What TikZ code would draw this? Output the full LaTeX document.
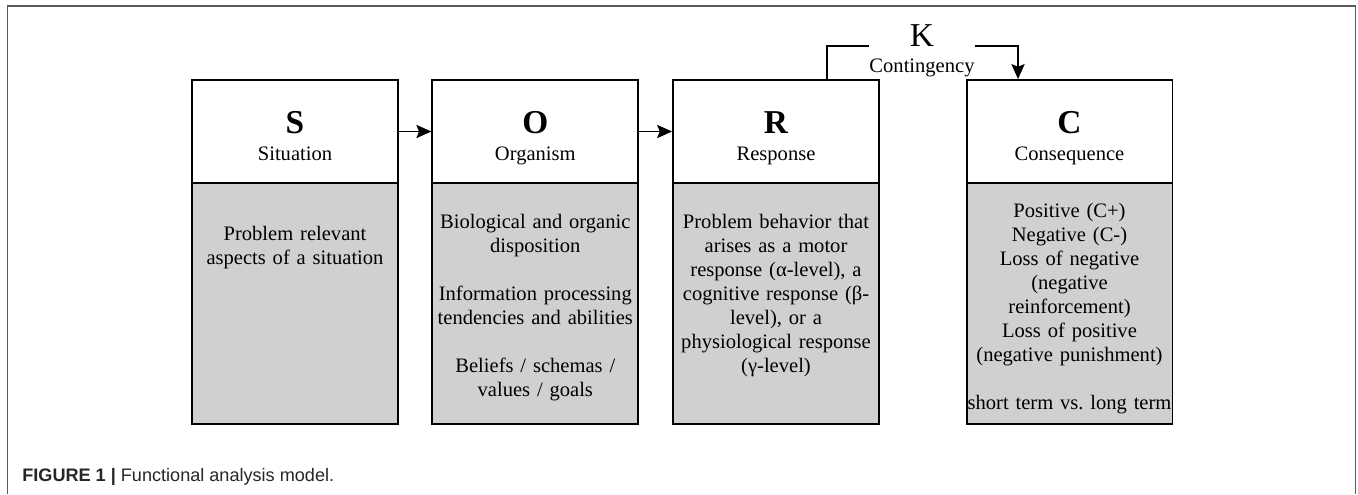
\documentclass[tikz,border=0pt]{standalone}
\usepackage{fontspec}
\setmainfont{Liberation Serif}
\newfontfamily\capfont{Liberation Sans}
\usetikzlibrary{arrows.meta}
\definecolor{bodygray}{HTML}{D0D0D0}
\definecolor{framegray}{HTML}{5A5A5A}
\definecolor{capgray}{HTML}{262626}
\frenchspacing

\begin{document}
\begin{tikzpicture}[x=0.02cm, y=-0.02cm, >={Stealth[length=8.5pt,width=7.5pt,inset=1.5pt]}]
        \tikzstyle{head}=[draw, line width=1.1pt, fill=white, minimum width=4.12cm, minimum height=2.06cm, inner sep=0pt]
        \tikzstyle{body}=[draw, line width=1.1pt, fill=bodygray, minimum width=4.12cm, minimum height=4.82cm, inner sep=0pt]
        \tikzstyle{letter}=[anchor=base, inner sep=0pt, font=\fontsize{19}{22}\selectfont\bfseries]
        \tikzstyle{term}=[anchor=base, inner sep=0pt, font=\fontsize{11.7}{13.7}\selectfont]
        \tikzstyle{info}=[anchor=base, inner sep=0pt, text width=4.12cm, align=center, font=\fontsize{11.7}{13.66}\selectfont]
        \tikzstyle{conn}=[line width=1pt]
        \useasboundingbox (0,0) rectangle (1358,494);
        % frame of the figure
        \draw[framegray, line width=0.9pt] (7.5,494) -- (7.5,6) -- (1355.5,6) -- (1355.5,494);
        % S
        \node [head] (s-head) at (295,131.5) {};
        \node [body] (s-body) at (295,303.5) {};
        \node [letter] (s-let) at (295,133) {S};
        \node [term] (s-term) at (295,160.5) {Situation};
        \node [info] (s-text) at (295,240.5) {Problem relevant\\aspects of a situation};
        % O
        \node [head] (o-head) at (535.3,131.5) {};
        \node [body] (o-body) at (535.3,303.5) {};
        \node [letter] (o-let) at (535.3,133) {O};
        \node [term] (o-term) at (535.3,160.5) {Organism};
        \node [info] (o-text) at (535.3,228) {Biological and organic\\disposition\\[13.66pt]Information processing\\tendencies and abilities\\[13.66pt]Beliefs / schemas /\\values / goals};
        % R
        \node [head] (r-head) at (776,131.5) {};
        \node [body] (r-body) at (776,303.5) {};
        \node [letter] (r-let) at (776,133) {R};
        \node [term] (r-term) at (776,160.5) {Response};
        \node [info] (r-text) at (776,228) {Problem behavior that\\arises as a motor\\response (α-level), a\\cognitive response (β-\\level), or a\\physiological response\\(γ-level)};
        % C
        \node [head] (c-head) at (1069.5,131.5) {};
        \node [body] (c-body) at (1069.5,303.5) {};
        \node [letter] (c-let) at (1069.5,133) {C};
        \node [term] (c-term) at (1069.5,160.5) {Consequence};
        \node [info] (c-text) at (1069.5,217) {Positive (C+)\\Negative (C-)\\Loss of negative\\(negative\\reinforcement)\\Loss of positive\\(negative punishment)\\[13.66pt]\mbox{short term vs. long term}};
        % K
        \node [letter, font=\fontsize{19}{22}\selectfont] (k-let) at (922,46) {K};
        \node [term] (k-term) at (922,72) {Contingency};
        % arrows
        \draw[conn,->] (s-head) -- (o-head);
        \draw[conn,->] (o-head) -- (r-head);
        \draw[conn] ([xshift=1.02cm]r-head.north) |- (k-term.west |- k-let.base);
        \draw[conn,->] (k-term.east |- k-let.base) -| ([xshift=-1.03cm]c-head.north);
        % caption
        \node [anchor=base west, inner sep=0pt, text=capgray, font=\capfont\fontsize{10.3}{12}\selectfont] (fig) at (22,481) {\textbf{FIGURE 1 |} Functional analysis model.};
    \end{tikzpicture}
\end{document}
